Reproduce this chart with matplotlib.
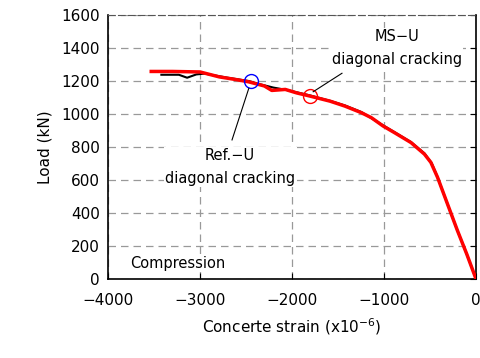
import matplotlib.pyplot as plt

# Load - concrete strain data
#*******************************

red_strain = [-3530, -3300, -3000, -2790, -2600, -2470, -2300, -2220, -2073, -1950,
              -1800, -1587, -1425, -1246, -1138, -1012, -886, -707, -561, -491,
              -418, -311, -203, -100, 0]
red_load = [1258, 1258, 1255, 1225, 1208, 1195, 1170, 1143, 1149, 1128,
            1108, 1078, 1048, 1008, 978, 928, 887, 827, 757, 707,
            616, 456, 295, 150, 0]

black_strain = [-3420, -3230, -3140, -3040, -2950, -2700, -2470, -2360, -2200, -2050,
                -1800, -1587, -1425, -1246, -1012, -886, -707, -561, -480, -420,
                -311, -203, -100, 0]
black_load = [1238, 1238, 1220, 1240, 1245, 1220, 1200, 1182, 1160, 1145,
              1112, 1080, 1052, 1012, 932, 890, 830, 762, 700, 620,
              456, 295, 150, 0]

ref_crack = (-2450, 1198)
ms_crack = (-1800, 1110)

x_ticks = [-4000, -3000, -2000, -1000, 0]
y_ticks = [0, 200, 400, 600, 800, 1000, 1200, 1400, 1600]

fig = plt.figure(figsize=(4.8, 3.58), dpi=100)
ax = fig.add_axes([0.225, 0.2207, 0.7667, 0.7373])

ax.plot(black_strain, black_load, color="black", lw=1.5, zorder=3)
ax.plot(red_strain, red_load, color="red", lw=2.5, zorder=4)

ax.plot(*ref_crack, marker="o", ms=10, mfc="none", mec="blue", mew=1.0, zorder=5)
ax.plot(*ms_crack, marker="o", ms=10, mfc="none", mec="red", mew=1.0, zorder=5)

# leader lines
ax.plot([-2470, -2652], [1155, 843], color="black", lw=0.8, zorder=5)
ax.plot([-1770, -1457], [1135, 1247], color="black", lw=0.8, zorder=5)

box = dict(facecolor="white", edgecolor="none", pad=1)
ax.text(-2673, 678, "Ref.\u2212U\ndiagonal cracking", ha="center", va="center",
        fontsize=10.5, linespacing=1.65, bbox=box, zorder=6)
ax.text(-861, 1400, "MS\u2212U\ndiagonal cracking", ha="center", va="center",
        fontsize=10.5, linespacing=1.65, bbox=box, zorder=6)
ax.text(-3760, 95, "Compression", ha="left", va="center", fontsize=10.5,
        bbox=box, zorder=6)

ax.set_xlim(-4000, 0)
ax.set_ylim(0, 1600)
ax.set_xticks(x_ticks)
ax.set_yticks(y_ticks)
ax.grid(True, color="#999999", lw=0.9, linestyle=(0, (6, 4)))
ax.set_axisbelow(True)

ax.tick_params(axis="x", direction="in", length=4, labelsize=11, pad=10)
ax.tick_params(axis="y", direction="in", length=4, labelsize=11, pad=6,
               left=False, right=True)

for s in ["left", "bottom", "right"]:
    ax.spines[s].set_linewidth(1.2)
ax.spines["top"].set_color("#555555")
ax.spines["top"].set_linestyle((0, (6, 3)))

ax.set_xlabel("Concerte strain (x10$^{-6}$)", fontsize=11, labelpad=6)
ax.set_ylabel("Load (kN)", fontsize=11, labelpad=6)

plt.savefig("out.png", dpi=100)
plt.close()
